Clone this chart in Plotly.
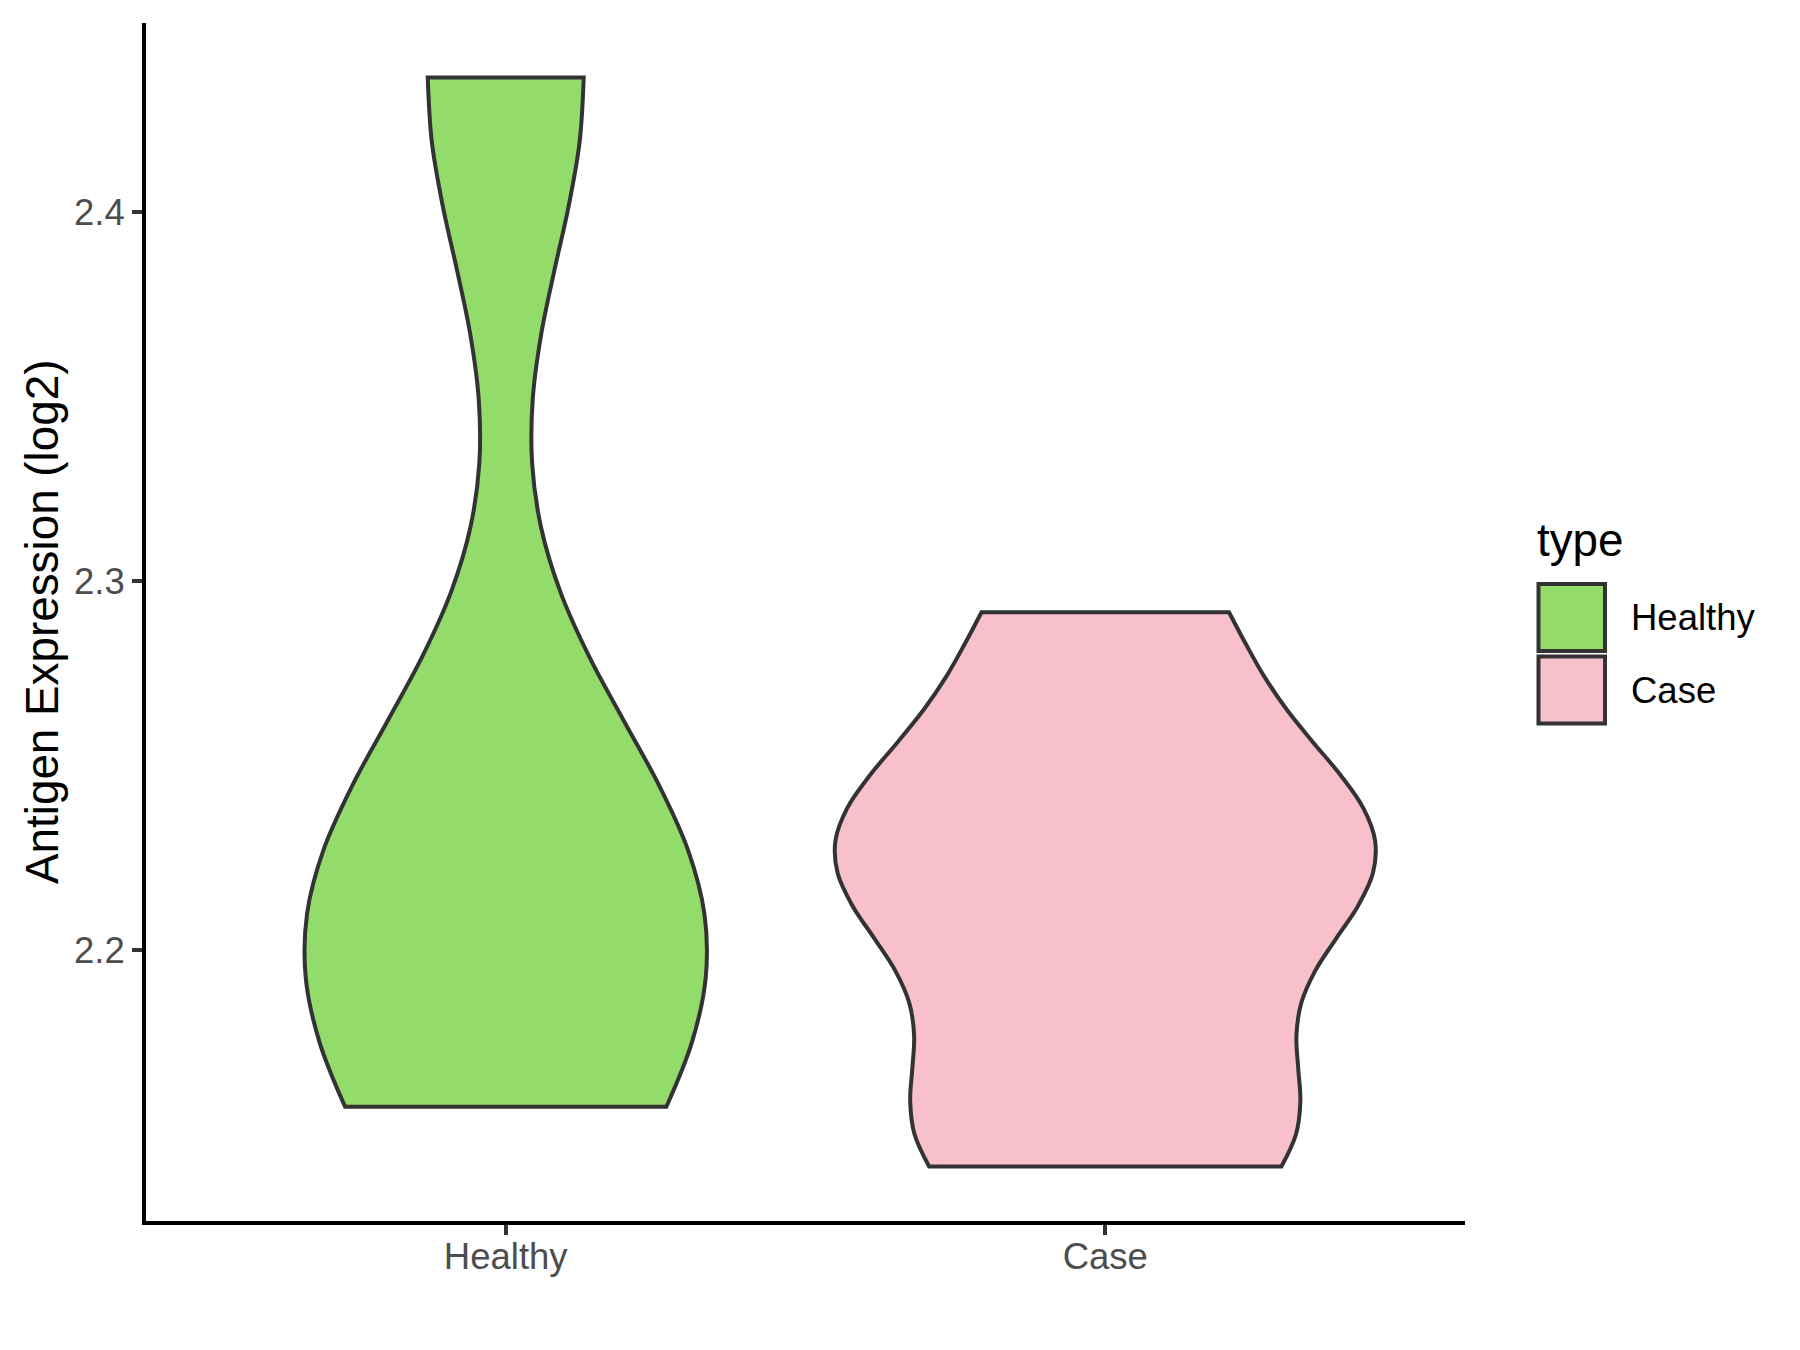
import plotly.graph_objects as go

# ---------------- data ----------------
categories = ["Healthy", "Case"]
healthy_values = [2.1576, 2.206, 2.228, 2.4365]
case_values = [2.1414, 2.160, 2.212, 2.226, 2.243, 2.2916]
bandwidths = [0.0525, 0.028]
violin_widths = [0.667, 0.9]
fill_colors = ["#93DB6B", "#F7C0CB"]
y_ticks = [2.2, 2.3, 2.4]
y_title = "Antigen Expression (log2)"
legend_title = "type"

# ---------------- layout geometry (page pixels) ----------------
W, H = 1800, 1350
OFF = 8  # default body margin of the html page
L, R, T, B = 146, 1465, 23, 1221
FONT = "Liberation Sans, Arial, Helvetica, sans-serif"
OUTLINE = "#333333"
LW = 4


def px_x(px):
    return (px - L) / (R - L)


def px_y(py):
    return (B - py) / (B - T)


fig = go.Figure()
series = [healthy_values, case_values]
for cat, vals, bw, wd, fc in zip(categories, series, bandwidths, violin_widths, fill_colors):
    fig.add_trace(go.Violin(
        x=[cat] * len(vals), y=vals, name=cat,
        bandwidth=bw, width=wd, spanmode="hard", points=False,
        fillcolor=fc, line=dict(color=OUTLINE, width=LW),
        box_visible=False, meanline_visible=False,
        showlegend=False, hoverinfo="y",
    ))

all_vals = healthy_values + case_values
lo, hi = min(all_vals), max(all_vals)
pad = 0.05 * (hi - lo)

fig.update_layout(
    width=W, height=H,
    margin=dict(l=L - OFF, r=W - (R - OFF), t=T - OFF, b=H - (B - OFF), pad=0),
    paper_bgcolor="white", plot_bgcolor="white",
    font=dict(family=FONT, color="black"),
    showlegend=False, violinmode="overlay",
)
fig.update_xaxes(
    type="category", categoryorder="array", categoryarray=categories,
    range=[-0.6, len(categories) - 0.4],
    showline=True, linecolor="black", linewidth=LW, mirror=False,
    ticks="outside", ticklen=10, tickwidth=LW, tickcolor=OUTLINE,
    tickfont=dict(size=36.5, color="#4D4D4D", family=FONT),
    ticklabelstandoff=-10,
    showgrid=False, zeroline=False,
)
fig.update_yaxes(
    range=[lo - pad, hi + pad], tickvals=y_ticks, tickformat=".1f",
    showline=True, linecolor="black", linewidth=LW,
    ticks="outside", ticklen=10, tickwidth=LW, tickcolor=OUTLINE,
    tickfont=dict(size=36.5, color="#4D4D4D", family=FONT),
    ticklabelstandoff=0,
    showgrid=False, zeroline=False,
)

# y-axis title
fig.add_annotation(
    text=y_title, textangle=-90, xref="paper", yref="paper",
    x=px_x(42), y=0.5, xanchor="center", yanchor="middle",
    showarrow=False, font=dict(size=45.8, color="black", family=FONT),
)

# legend (drawn by hand to match ggplot key size)
fig.add_annotation(
    text=legend_title, xref="paper", yref="paper",
    x=px_x(1535), y=px_y(540), xanchor="left", yanchor="middle",
    showarrow=False, font=dict(size=45.8, color="black", family=FONT),
)
key_top = 584
key_h = 72.5
for i, (cat, fc) in enumerate(zip(categories, fill_colors)):
    y0 = key_top + i * key_h
    fig.add_shape(
        type="rect", xref="paper", yref="paper",
        x0=px_x(1538.5), x1=px_x(1605), y0=px_y(y0 + 67), y1=px_y(y0),
        fillcolor=fc, line=dict(color=OUTLINE, width=LW),
    )
    fig.add_annotation(
        text=cat, xref="paper", yref="paper",
        x=px_x(1629), y=px_y(y0 + 33.5), xanchor="left", yanchor="middle",
        showarrow=False, font=dict(size=36.5, color="black", family=FONT),
    )

fig.write_html("out.html")
